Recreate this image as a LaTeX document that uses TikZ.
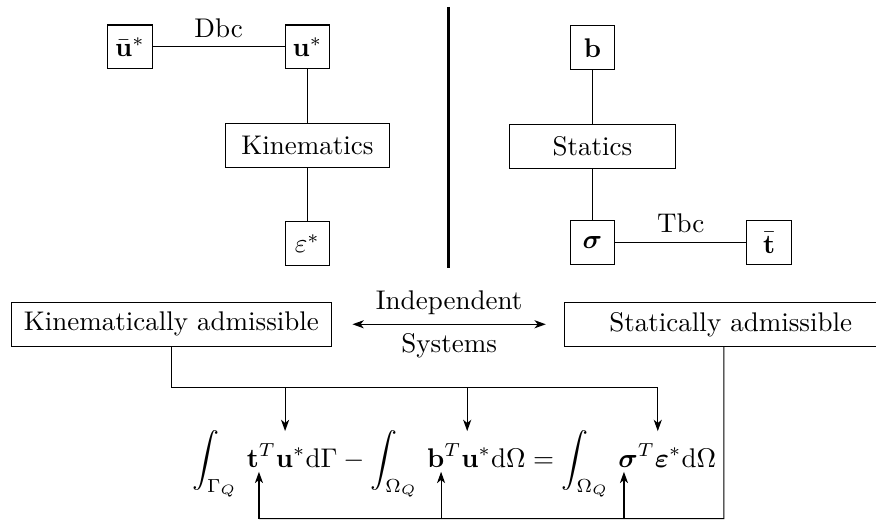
\documentclass[tikz,border=0pt]{standalone}
\usepackage{amsmath,amssymb}
\usetikzlibrary{arrows.meta}
\tikzset{box/.style={draw, minimum width=0.58cm, minimum height=0.57cm, inner sep=2pt}}
\tikzset{wide/.style={draw, minimum height=0.57cm, inner sep=2pt}}

\begin{document}
\begin{tikzpicture}[>={Stealth[length=4.2pt,width=3pt,inset=1.2pt]}]
\clip (0,0) rectangle (11.40,6.78);
% kinematics side
\node[box] (ubar) at (1.69,6.17) {$\bar{\mathbf{u}}^*$};
\node[box] (u) at (4.0,6.17) {$\mathbf{u}^*$};
\node[wide, minimum width=2.13cm] (kin) at (4.0,4.89) {Kinematics};
\node[box] (eps) at (4.0,3.61) {$\varepsilon^*$};
\draw (ubar) -- node[above] {Dbc} (u);
\draw (u) -- (kin);
\draw (kin) -- (eps);
% statics side
\node[box] (b) at (7.71,6.16) {$\mathbf{b}$};
\node[wide, minimum width=2.15cm] (stat) at (7.71,4.87) {Statics};
\node[box] (sig) at (7.71,3.62) {$\boldsymbol{\sigma}$};
\node[box] (tbar) at (10.01,3.62) {$\bar{\mathbf{t}}$};
\draw (b) -- (stat);
\draw (stat) -- (sig);
\draw (sig) -- node[above] {Tbc} (tbar);
\draw [line width=1.2pt] (5.84,6.69) -- (5.84,3.29);
% admissible systems
\node[wide, minimum width=4.16cm] (kadm) at (2.23,2.56) {Kinematically admissible};
\node[wide, minimum width=4.32cm] (sadm) at (9.51,2.56) {Statically admissible};
\draw [<->] ([xshift=0.27cm]kadm.east) -- node[above] {Independent} node[below] {Systems} ([xshift=-0.24cm]sadm.west);
% virtual work
\node (eq) at (5.91,0.74) {$\displaystyle\int_{\Gamma_Q}\,\mathbf{t}^T\mathbf{u}^*\mathrm{d}\Gamma-\int_{\Omega_Q}\,\mathbf{b}^T\mathbf{u}^*\mathrm{d}\Omega=\int_{\Omega_Q}\,\boldsymbol{\sigma}^T\boldsymbol{\varepsilon}^*\mathrm{d}\Omega$};
\coordinate (tu) at (3.71,1.17);
\coordinate (bu) at (6.08,1.17);
\coordinate (se) at (8.56,1.17);
\coordinate (t) at (3.37,0.64);
\coordinate (bb) at (5.74,0.64);
\coordinate (sg) at (8.12,0.64);
\draw (kadm.south) -- (kadm.south |- 0,1.74) -- (se |- 0,1.74);
\draw [->] (tu |- 0,1.74) -- (tu);
\draw [->] (bu |- 0,1.74) -- (bu);
\draw [->] (se |- 0,1.74) -- (se);
\draw ([xshift=-0.09cm]sadm.south) -- (9.42,0.03) -- (t |- 0,0.03);
\draw [->] (t |- 0,0.03) -- (t);
\draw [->] (bb |- 0,0.03) -- (bb);
\draw [->] (sg |- 0,0.03) -- (sg);
\end{tikzpicture}
\end{document}
